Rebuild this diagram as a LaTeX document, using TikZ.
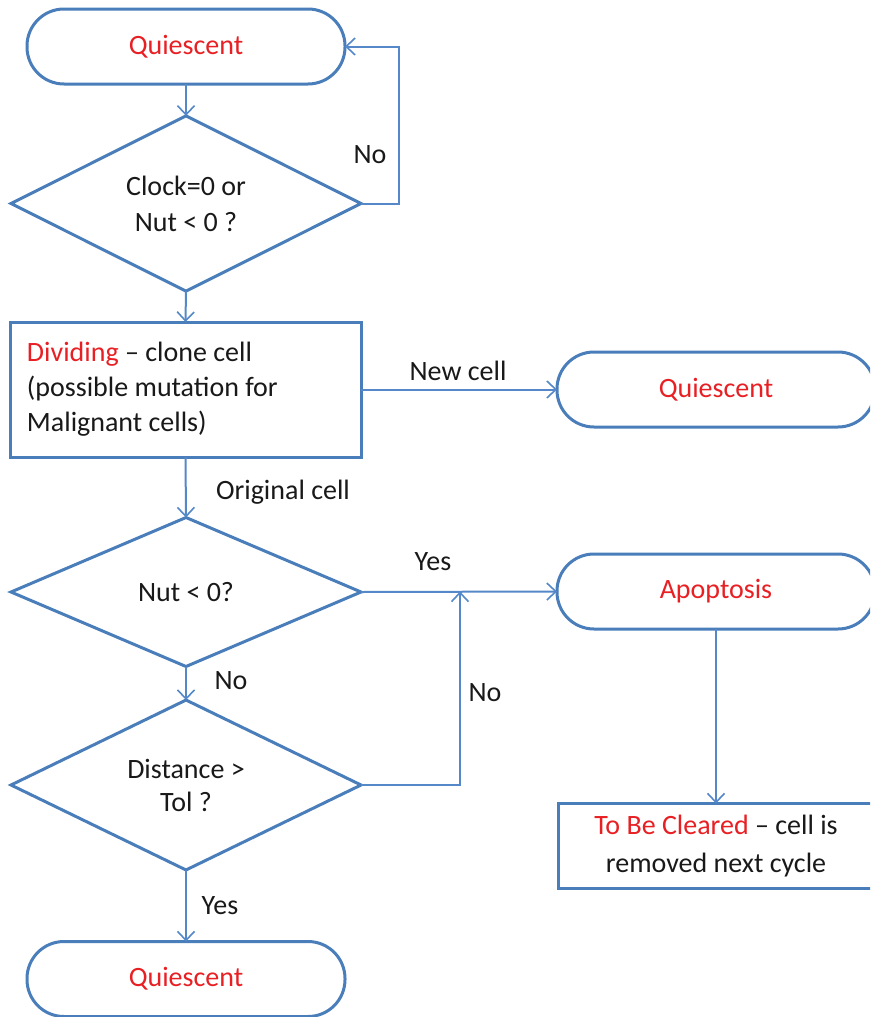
\documentclass[tikz,border=0pt]{standalone}
\usepackage{fontspec}
\setmainfont{Carlito}
\usetikzlibrary{shapes.geometric,arrows.meta}
\definecolor{lineblue}{RGB}{74,126,187}
\definecolor{wirblue}{RGB}{84,136,200}
\definecolor{hotred}{RGB}{232,32,36}
\definecolor{ink}{RGB}{25,25,25}
\tikzset{
  base/.style={draw=lineblue, line width=3pt, fill=white, outer sep=0pt,
    text=ink, font=\fontsize{28}{35}\selectfont},
  stadium/.style={base, rectangle, rounded corners=37pt,
    minimum width=318pt, minimum height=75pt, text=hotred},
  decision/.style={base, diamond, inner sep=0pt, align=center},
  process/.style={base, rectangle, inner sep=0pt},
  wire/.style={draw=wirblue, line width=2pt,
    -{Straight Barb[length=9pt,width=17pt,line width=1.6pt]}},
  lbl/.style={text=ink, font=\fontsize{28}{35}\selectfont, inner sep=0pt}
}
\begin{document}
\begin{tikzpicture}[x=1pt,y=-1pt]
\useasboundingbox (0,0) rectangle (870,1017);
\clip (0,0) rectangle (870,1017);
\fill[white] (0,0) rectangle (870,1017);

% shapes
\node[stadium] (q1) at (186,46.5) {Quiescent};
\node[decision, minimum width=350pt, minimum height=160pt] (d1) at (186,203.5)
  {Clock=0 or\\[1pt]Nut < 0 ?};
\node[process, minimum width=351pt, minimum height=135pt, text width=317pt,
  inner xsep=17pt, align=flush left] (div) at (185.5,389.5)
  {\textcolor{hotred}{Dividing} – clone cell\\(possible mutation for\\Malignant cells)};
\node[stadium] (q2) at (716,389.5) {Quiescent};
\node[decision, minimum width=350pt, minimum height=149pt] (d2) at (186,592)
  {Nut < 0?};
\node[stadium] (apo) at (716,591.5) {Apoptosis};
\node[decision, minimum width=350pt, minimum height=157pt] (d3) at (186,785)
  {Distance >\\[-2pt]Tol ?};
\node[process, minimum width=316pt, minimum height=85pt, align=center]
  (clr) at (716,846) {\textcolor{hotred}{To Be Cleared} – cell is\\[3pt]removed next cycle};
\node[stadium] (q3) at (186,979) {Quiescent};

% connectors
\draw[wire] (q1.south) -- (d1.north);
\draw[wire] (d1.east) -- ++(38,0) |- (q1.east);
\draw[wire] (d1.south) -- (div.north);
\draw[wire] (div.east) -- (q2.west);
\draw[wire] (div.south) -- (d2.north);
\draw[wire] (d2.east) -- (apo.west);
\draw[wire] (d2.south) -- (d3.north);
\coordinate (join) at (460,591.5);
\draw[wire] (d3.east) -| (join);
\draw[wire] (apo.south) -- (clr.north);
\draw[wire] (d3.south) -- (q3.north);

% connector labels
\node[lbl] (noA) at (370,155) {No};
\node[lbl] (newcell) at (458,371) {New cell};
\node[lbl] (orig) at (283,492) {Original cell};
\node[lbl] (yesA) at (433,562) {Yes};
\node[lbl] (noB) at (231,681) {No};
\node[lbl] (noC) at (485,693) {No};
\node[lbl] (yesB) at (220,906) {Yes};
\end{tikzpicture}
\end{document}
